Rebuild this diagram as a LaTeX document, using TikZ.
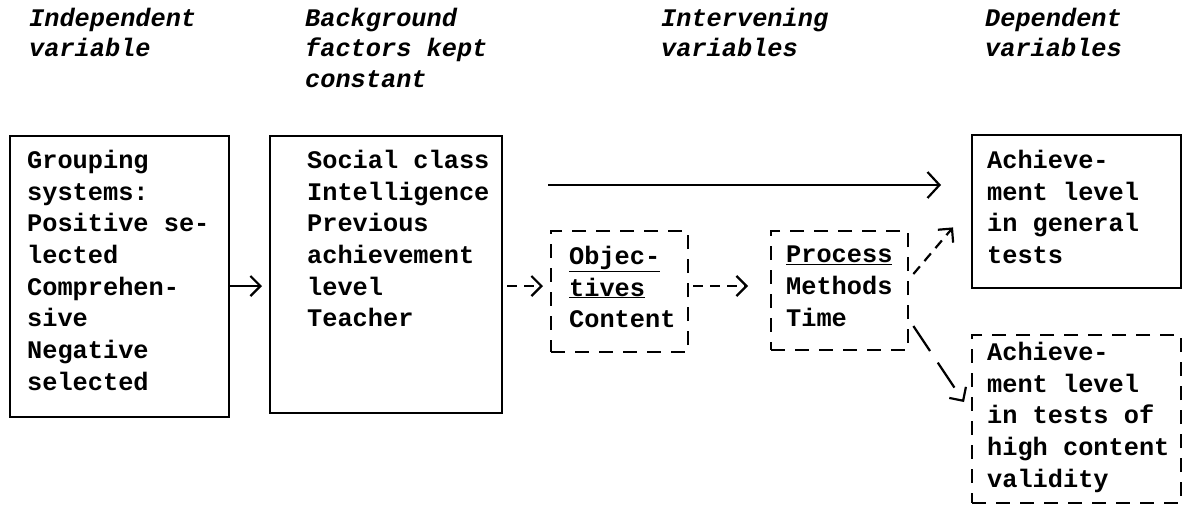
\documentclass[tikz,border=0pt]{standalone}
\usepackage{fontspec}
\newfontfamily\typed{Liberation Mono}
\usetikzlibrary{arrows.meta,calc}
\begin{document}
\begin{tikzpicture}[x=1pt,y=-1pt,
  frame/.style={draw, line width=2.4pt, inner sep=0pt, anchor=north west},
  dashframe/.style={frame, dash pattern=on 14pt off 10pt},
  txt/.style={anchor=north west, inner sep=0pt, align=left,
    font=\typed\bfseries\fontsize{25.3}{31.7}\selectfont,
    execute at begin node=\strut},
  head/.style={txt, font=\typed\bfseries\itshape\fontsize{25.3}{30.5}\selectfont},
  arr/.style={line width=2.2pt, -{Straight Barb[length=10pt,width=20pt]}},
  bigarr/.style={line width=2.2pt, -{Straight Barb[length=12pt,width=26pt]}},
  dashline/.style={dash pattern=on 10pt off 7pt},
  longdash/.style={dash pattern=on 30pt off 14pt}]
\useasboundingbox (0,0) rectangle (1184,504);

% column headings
\node[head] (h1) at (29,7.6) {Independent\\variable};
\node[head] (h2) at (305,7.6) {Background\\factors kept\\constant};
\node[head] (h3) at (661,7.6) {Intervening\\variables};
\node[head] (h4) at (985,7.6) {Dependent\\variables};

% boxes
\node[frame, minimum width=219pt, minimum height=281pt] (b1) at (9,135) {};
\node[frame, minimum width=232pt, minimum height=277pt] (b2) at (269,135) {};
\node[dashframe, minimum width=137pt, minimum height=121pt] (obj) at (550,230) {};
\node[dashframe, minimum width=137pt, minimum height=119pt] (proc) at (770,230) {};
\node[frame, minimum width=209pt, minimum height=153pt] (gen) at (971,134) {};
\node[dashframe, minimum width=209pt, minimum height=168pt] (val) at (971,334) {};

% box contents
\node[txt] (t1) at (27,149.8) {Grouping\\systems:\\Positive se-\\lected\\Comprehen-\\sive\\Negative\\selected};
\node[txt] (t2) at (307,149.8) {Social class\\Intelligence\\Previous\\achievement\\level\\Teacher};
\node[txt] (tobj) at (569,245.8) {\underline{Objec-}\\\underline{tives}\\Content};
\node[txt] (tproc) at (786,245.8) {\underline{Process}\\Methods\\Time};
\node[txt] (tgen) at (987,149.8) {Achieve-\\ment level\\in general\\tests};
\node[txt] (tval) at (987,341.8) {Achieve-\\ment level\\in tests of\\high content\\validity};

% connectors
\coordinate (ya) at (0,286);
\coordinate (yt) at (0,185);
\draw[arr, shorten >=7pt] (b1.east |- ya) -- (b2.west |- ya);
\draw[arr, dashline, shorten <=4pt, shorten >=7pt] (b2.east |- ya) -- (obj.west |- ya);
\draw[arr, dashline, shorten <=4pt, shorten >=22pt] (obj.east |- ya) -- (proc.west |- ya);
\draw[bigarr, shorten <=45pt, shorten >=30pt] (b2.east |- yt) -- (gen.west |- yt);
\draw[arr, dashline] ($(proc.north east)+(4,44)$) -- ($(gen.south west)+(-18,-62)$);
\draw[arr, longdash] ($(proc.north east)+(4,96)$) -- ($(val.north west)+(-7,68)$);
\end{tikzpicture}
\end{document}
